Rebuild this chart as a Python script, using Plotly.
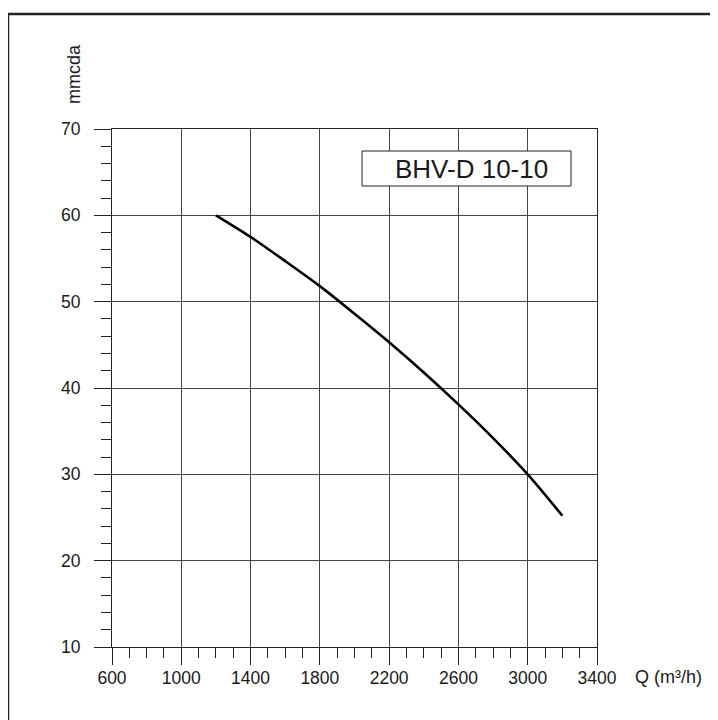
import plotly.graph_objects as go

# Data
flow_q = [1200, 1400, 1600, 1800, 2000, 2200, 2400, 2600, 2800, 3000, 3200]
head_mmcda = [60.0, 57.5, 54.7, 51.8, 48.6, 45.3, 41.8, 38.1, 34.2, 30.0, 25.2]
x_ticks = [600, 1000, 1400, 1800, 2200, 2600, 3000, 3400]
y_ticks = [10, 20, 30, 40, 50, 60, 70]
model_label = "BHV-D 10-10"
x_title = "Q (m³/h)"
y_title = "mmcda"

OFF = 8  # page body margin
W, H = 718 - OFF, 720 - OFF
L, R, T, B = 112 - OFF, 597 - OFF, 129 - OFF, 647 - OFF
pw, ph = R - L, B - T


def px(x):
    return (x - OFF - L) / pw


def py(y):
    return (B - (y - OFF)) / ph


FONT = "Liberation Sans, Arial, Helvetica, sans-serif"
TXT = "#1a1a1a"

fig = go.Figure()
fig.add_trace(go.Scatter(
    x=flow_q, y=head_mmcda, mode="lines",
    line=dict(color="#000000", width=2.6, shape="spline", smoothing=0.8),
    hoverinfo="skip", showlegend=False,
))

axis_common = dict(
    showline=True, linecolor="#222", linewidth=1, mirror=True,
    showgrid=True, gridcolor="#444", gridwidth=1,
    ticks="outside", ticklen=17, tickwidth=1, tickcolor="#222",
    zeroline=False,
    tickfont=dict(family=FONT, size=17.5, color=TXT),
)

fig.update_xaxes(
    range=[600, 3400], tickmode="array", tickvals=x_ticks,
    ticktext=[str(v) for v in x_ticks],
    minor=dict(ticks="outside", ticklen=10, tickwidth=1, tickcolor="#222",
               dtick=100, tick0=600, showgrid=False),
    ticklabelstandoff=-2,
    **axis_common,
)
fig.update_yaxes(
    range=[10, 70], tickmode="array", tickvals=y_ticks,
    ticktext=[str(v) for v in y_ticks],
    minor=dict(ticks="outside", ticklen=10, tickwidth=1, tickcolor="#222",
               dtick=2, tick0=10, showgrid=False),
    ticklabelstandoff=10,
    **axis_common,
)

shapes = [
    # outer frame (top and left edges)
    dict(type="line", xref="paper", yref="paper", x0=px(8), x1=px(720), y0=py(14), y1=py(14),
         line=dict(color="#222", width=2.5)),
    dict(type="line", xref="paper", yref="paper", x0=px(8), x1=px(8), y0=py(14), y1=py(722),
         line=dict(color="#222", width=2.5)),
    # label box
    dict(type="rect", xref="paper", yref="paper", x0=px(362), x1=px(571), y0=py(186), y1=py(151),
         line=dict(color="#222", width=1), fillcolor="white", layer="above"),
]

annotations = [
    dict(text=model_label, xref="paper", yref="paper", x=px(471), y=py(168.5),
         showarrow=False, xanchor="center", yanchor="middle",
         font=dict(family=FONT, size=26, color=TXT)),
    dict(text=y_title, xref="paper", yref="paper", x=px(74), y=py(74),
         showarrow=False, xanchor="center", yanchor="middle", textangle=-90,
         font=dict(family=FONT, size=18, color=TXT)),
    dict(text=x_title, xref="paper", yref="paper", x=px(633), y=py(677),
         showarrow=False, xanchor="left", yanchor="middle",
         font=dict(family=FONT, size=18, color=TXT)),
]

fig.update_layout(
    width=W, height=H,
    margin=dict(l=L, r=W - R, t=T, b=H - B, pad=0),
    paper_bgcolor="white", plot_bgcolor="white",
    shapes=shapes, annotations=annotations,
    showlegend=False,
)

fig.write_html("out.html")
